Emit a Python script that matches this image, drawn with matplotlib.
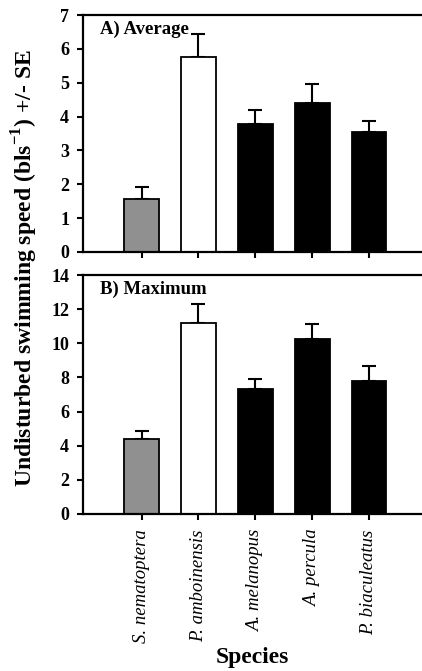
import numpy as np
import matplotlib.pyplot as plt

plt.rcParams['font.family'] = ['Liberation Serif', 'DejaVu Serif']
plt.rcParams['font.weight'] = 'bold'
plt.rcParams['mathtext.fontset'] = 'custom'
plt.rcParams['mathtext.rm'] = 'Liberation Serif:bold'
plt.rcParams['mathtext.bf'] = 'Liberation Serif:bold'

species = ['S. nematoptera', 'P. amboinensis', 'A. melanopus', 'A. percula', 'P. biaculeatus']
avg_speed = [1.56, 5.75, 3.79, 4.40, 3.53]
avg_se = [0.35, 0.70, 0.39, 0.56, 0.34]
max_speed = [4.41, 11.17, 7.31, 10.23, 7.80]
max_se = [0.46, 1.15, 0.62, 0.90, 0.85]
bar_colors = ['#909090', 'white', 'black', 'black', 'black']

fig = plt.figure(figsize=(4.22, 6.71), dpi=100)
ax1 = fig.add_axes([83/422, 1-252/671, 1-83/422, 237/671])
ax2 = fig.add_axes([83/422, 1-514/671, 1-83/422, 239/671])

x = np.arange(len(species))

def draw(ax, vals, errs, ymax, step, label):
    ax.bar(x, vals, width=0.61, color=bar_colors, edgecolor='black', linewidth=1.3, zorder=2)
    ax.errorbar(x, vals, yerr=[np.zeros(len(errs)), errs], fmt='none', ecolor='black',
                elinewidth=1.5, capsize=5, capthick=1.5, zorder=1)
    ax.set_xlim(-1.03, 4.93)
    ax.set_ylim(0, ymax)
    ax.set_yticks(np.arange(0, ymax + 1, step))
    ax.set_xticks(x)
    ax.spines['right'].set_visible(False)
    for s in ['left', 'top', 'bottom']:
        ax.spines[s].set_linewidth(1.6)
    ax.tick_params(direction='out', width=1.5, length=4, labelsize=13)
    ax.tick_params(axis='y', pad=6)
    ax.text(0.05, 0.975, label, transform=ax.transAxes, fontsize=13.5, fontweight='bold',
            va='top', ha='left')

draw(ax1, avg_speed, avg_se, 7, 1, 'A) Average')
draw(ax2, max_speed, max_se, 14, 2, 'B) Maximum')

ax1.set_xticklabels([])
ax2.set_xticklabels(species, rotation=90, fontstyle='italic', fontweight='normal', fontsize=13.5)
ax2.tick_params(axis='x', pad=7)
ax2.set_xlabel('Species', fontsize=17, fontweight='bold', labelpad=3)

fig.text(0.059, 0.60, r'Undisturbed swimming speed (bls$^{\rm{-1}}$) +/- SE', rotation=90,
         fontsize=17, fontweight='bold', ha='center', va='center')

plt.savefig('out.png', dpi=100)
